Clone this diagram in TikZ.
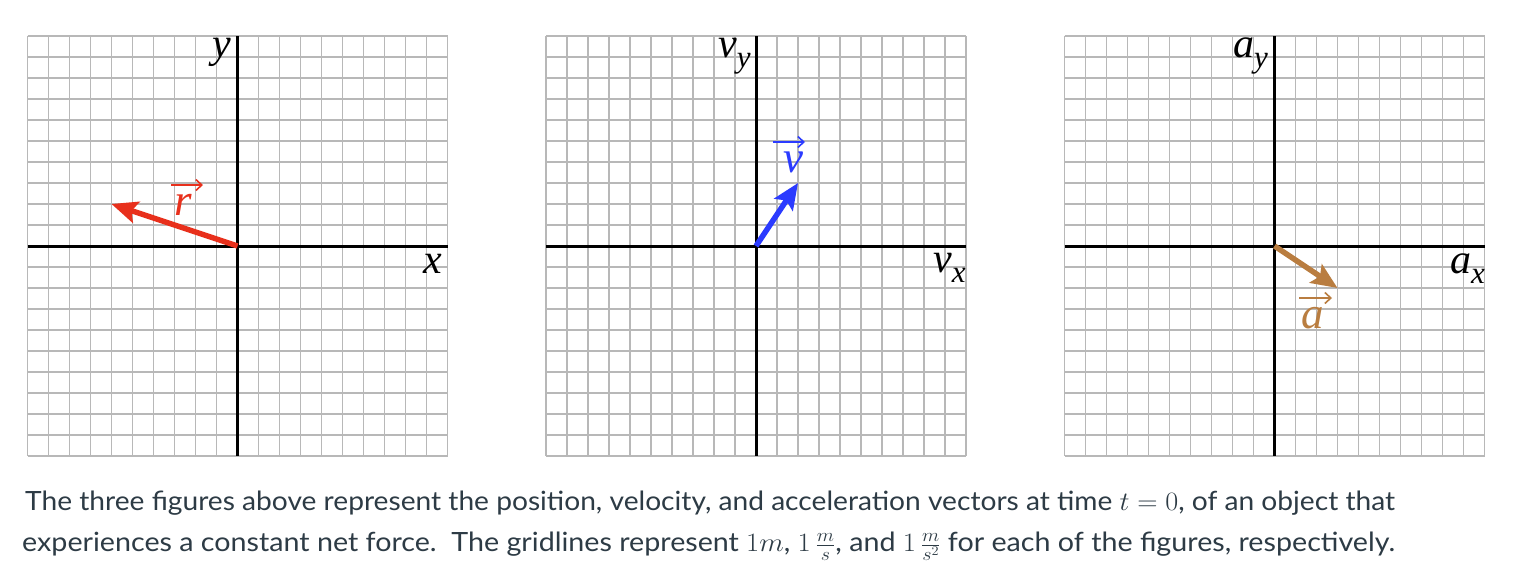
\RequirePackage{fix-cm}
\documentclass[tikz,border=0pt]{standalone}
\usepackage{graphicx}
\usepackage{fontspec}
\setmainfont{Lato}
\newfontfamily\lblfont{Liberation Serif}
\usetikzlibrary{arrows.meta}
\definecolor{txtcol}{HTML}{2D3B45}
\definecolor{rcol}{HTML}{E8301C}
\definecolor{vcol}{HTML}{2B3BFF}
\definecolor{acol}{HTML}{B97D40}
\definecolor{gridcol}{HTML}{B8B8B8}
\newcommand{\lblsub}[1]{\raisebox{-10pt}{\fontsize{31}{31}\selectfont #1}}
\begin{document}
\begin{tikzpicture}[x=1pt,y=-1pt,
  gridline/.style={draw=gridcol,line width=1.5pt},
  axisline/.style={draw=black,line width=3pt},
  vecline/.style={line width=5.5pt,-{Stealth[length=26pt,width=22pt,inset=5pt]}},
  lbl/.style={inner sep=0pt,anchor=base west,font=\lblfont\itshape\fontsize{42}{42}\selectfont},
  veclbl/.style={lbl,font=\lblfont\itshape\fontsize{45}{45}\selectfont},
  overarrow/.style={line width=1.6pt,-{Straight Barb[length=6pt,width=11pt]}},
  bodytext/.style={anchor=base west,inner sep=0pt,text=txtcol,font=\fontsize{26.5}{32}\selectfont}]

\useasboundingbox[fill=white] (0,0) rectangle (1528,587);

% grids
\foreach \L in {27.5,546,1064.5}{
  \foreach \i in {0,...,20}{
    \draw[gridline] (\L+21*\i,36) -- (\L+21*\i,456);
    \draw[gridline] (\L,36+21*\i) -- (\L+420,36+21*\i);
  }
}

% ---------- panel 1: position ----------
\coordinate (o1) at (237.5,246);
\coordinate (x1l) at (27.5,246);
\coordinate (x1r) at (447.5,246);
\coordinate (y1t) at (237.5,36);
\coordinate (y1b) at (237.5,456);
\draw[axisline] (x1l) -- (x1r);
\draw[axisline] (y1t) -- (y1b);
\node[lbl] (ylab) at (212,57) {y};
\node[lbl] (xlab) at (423,273) {x};
\coordinate (rtip) at (111.5,204);
\draw[vecline,draw=rcol,fill=rcol] (o1) -- (rtip);
\node[veclbl,text=rcol] (rlab) at (174,215) {r};
\draw[overarrow,rcol] ([shift={(-3,-30)}]rlab.base west) -- ([shift={(29,-30)}]rlab.base west);

% ---------- panel 2: velocity ----------
\coordinate (o2) at (756,246);
\coordinate (x2l) at (546,246);
\coordinate (x2r) at (966,246);
\coordinate (y2t) at (756,36);
\coordinate (y2b) at (756,456);
\draw[axisline] (x2l) -- (x2r);
\draw[axisline] (y2t) -- (y2b);
\node[lbl] (vylab) at (718,57) {v\lblsub{y}};
\node[lbl] (vxlab) at (933,272) {v\lblsub{x}};
\coordinate (vtip) at (798,183);
\draw[vecline,draw=vcol,fill=vcol] (o2) -- (vtip);
\node[veclbl,text=vcol] (vlab) at (783,172) {v};
\draw[overarrow,vcol] ([shift={(-10,-30)}]vlab.base west) -- ([shift={(22,-30)}]vlab.base west);

% ---------- panel 3: acceleration ----------
\coordinate (o3) at (1274.5,246);
\coordinate (x3l) at (1064.5,246);
\coordinate (x3r) at (1484.5,246);
\coordinate (y3t) at (1274.5,36);
\coordinate (y3b) at (1274.5,456);
\draw[axisline] (x3l) -- (x3r);
\draw[axisline] (y3t) -- (y3b);
\node[lbl] (aylab) at (1233,57) {a\lblsub{y}};
\node[lbl] (axlab) at (1450,273) {a\lblsub{x}};
\coordinate (atip) at (1337.5,288);
\draw[vecline,draw=acol,fill=acol] (o3) -- (atip);
\node[veclbl,text=acol] (alab) at (1301,328) {a};
\draw[overarrow,acol] ([shift={(-2,-30)}]alab.base west) -- ([shift={(31,-30)}]alab.base west);

% ---------- caption ----------
\node[bodytext] (line1) at (25,510.7) {\resizebox{1370pt}{\height}{The three figures above represent the position, velocity, and acceleration vectors at time $t=0$, of an object that}};
\node[bodytext] (line2) at (22,551.7) {\resizebox{1373pt}{\height}{experiences a constant net force.\ \ The gridlines represent $1m$, $1\,\frac{m}{s}$, and $1\,\frac{m}{s^2}$ for each of the figures, respectively.}};
\end{tikzpicture}
\end{document}
